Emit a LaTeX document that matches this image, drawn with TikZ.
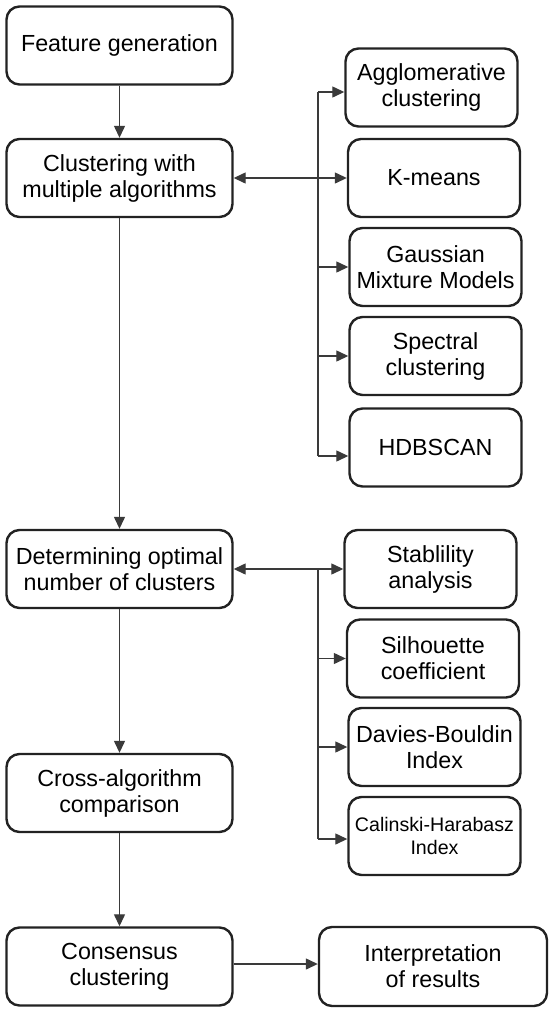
\documentclass[tikz,border=0pt]{standalone}
\usepackage{fontspec}
\setmainfont{Liberation Sans}
\usetikzlibrary{arrows.meta}
\definecolor{boxline}{HTML}{222222}
\definecolor{conn}{HTML}{3A3A3A}
\tikzset{
  box/.style={draw=boxline, line width=2.4pt, rounded corners=13pt, align=center,
    inner sep=0pt, text=black, font=\fontsize{23.3}{26}\selectfont},
  lbox/.style={box, minimum width=226pt, minimum height=78pt},
  rbox/.style={box, minimum width=172pt, minimum height=78pt},
  conn/.style={draw=conn, line width=1.3pt},
  arr/.style={conn, -{Triangle[length=12pt,width=11pt]}},
  darr/.style={conn, {Triangle[length=12pt,width=11pt]}-{Triangle[length=12pt,width=11pt]}},
}
\begin{document}
\begin{tikzpicture}[x=1pt,y=-1pt]
\useasboundingbox (0,0) rectangle (550,1012);
% left column
\node[lbox] (fg) at (119.5,45.5) {Feature generation};
\node[lbox] (cl) at (119.5,178) {Clustering with\\multiple algorithms};
\node[lbox] (det) at (119.5,569) {Determining optimal\\number of clusters};
\node[lbox] (cross) at (119.5,793) {Cross-algorithm\\comparison};
\node[lbox] (cons) at (119.5,966.5) {Consensus\\clustering};
\node[box, minimum width=228pt, minimum height=79pt] (interp) at (433,966.5) {Interpretation\\of results};
% right column, algorithms
\node[rbox] (agg) at (431.5,87.5) {Agglomerative\\clustering};
\node[rbox] (km) at (434,178) {K-means};
\node[rbox] (gmm) at (435.5,267) {Gaussian\\Mixture Models};
\node[rbox] (spec) at (435.5,356) {Spectral\\clustering};
\node[rbox] (hdb) at (435.5,447.5) {HDBSCAN};
% right column, metrics
\node[rbox] (stab) at (430.5,569) {Stablility\\analysis};
\node[rbox] (sil) at (433,658.5) {Silhouette\\coefficient};
\node[rbox] (db) at (434.5,747) {Davies-Bouldin\\Index};
\node[rbox, font=\fontsize{19.6}{23}\selectfont] (ch) at (434.5,836) {Calinski-Harabasz\\Index};
% main flow
\draw[arr] (fg) -- (cl);
\draw[arr] (cl) -- (det);
\draw[arr] (det) -- (cross);
\draw[arr] (cross) -- (cons);
\draw[arr] (cons.east |- 0,964) -- (interp.west |- 0,964);
% algorithm bus
\coordinate (b1t) at (318,92);
\coordinate (b1b) at (318,456);
\draw[conn] (b1t) -- (b1b);
\draw[darr] (cl) -- (km);
\draw[arr] (b1t) -- (agg.west |- b1t);
\draw[arr] (b1t |- gmm.west) -- (gmm.west);
\draw[arr] (b1t |- spec.west) -- (spec.west);
\draw[arr] (b1b) -- (hdb.west |- b1b);
% metric bus
\coordinate (b2t) at (318,569);
\coordinate (b2b) at (318,839);
\draw[conn] (b2t) -- (b2b);
\draw[darr] (det) -- (stab);
\draw[arr] (b2t |- sil.west) -- (sil.west);
\draw[arr] (b2t |- db.west) -- (db.west);
\draw[arr] (b2b) -- (ch.west |- b2b);
\end{tikzpicture}
\end{document}
